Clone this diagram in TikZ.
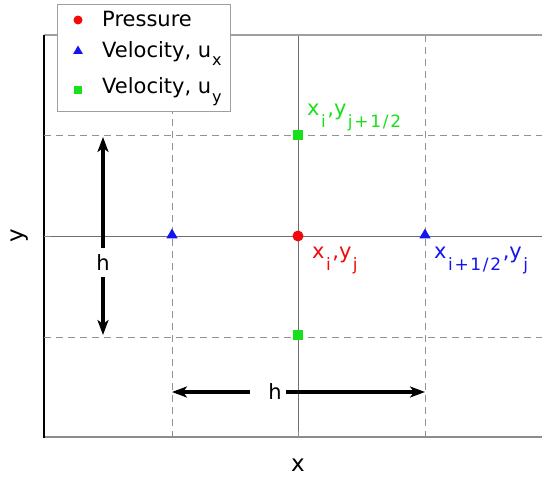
\documentclass[tikz,border=0pt]{standalone}
\usepackage{fontspec}
\setmainfont{DejaVu Sans}
\usetikzlibrary{arrows.meta,shapes.geometric}
\definecolor{mygreen}{RGB}{25,225,25}
\definecolor{myblue}{RGB}{20,20,240}
\definecolor{myred}{RGB}{240,10,10}
\definecolor{gridgray}{RGB}{110,110,110}
\newcommand\sbl[1]{\kern1.5pt\raisebox{-12pt}{\fontsize{17}{17}\selectfont\addfontfeature{LetterSpace=10}#1}\kern1.5pt}
\newcommand\sbg[1]{\kern1pt\raisebox{-9pt}{\fontsize{16}{16}\selectfont #1}}
\tikzset{
  gridsolid/.style={draw=gridgray, line width=0.9pt},
  griddash/.style={draw=gray!85, line width=0.9pt, dash pattern=on 7pt off 5pt},
  axisline/.style={draw=gray!75, line width=1.2pt},
  dotmark/.style={circle, fill=myred, inner sep=0pt, minimum size=11pt},
  trimark/.style={regular polygon, regular polygon sides=3, fill=myblue, inner sep=0pt, minimum size=13pt},
  sqmark/.style={rectangle, fill=mygreen, inner sep=0pt, minimum size=9.5pt},
  lbl/.style={anchor=base west, inner sep=0pt, font=\fontsize{21}{21}\selectfont},
  leg/.style={anchor=base west, inner sep=0pt, font=\fontsize{21}{21}\selectfont},
  bigarrow/.style={line width=4pt, -{Stealth[length=15pt, width=11pt, inset=4pt]}},
  hlabel/.style={inner sep=0pt, font=\fontsize{21}{21}\selectfont},
  axlabel/.style={inner sep=0pt, font=\fontsize{23}{23}\selectfont}
}
\begin{document}
\begin{tikzpicture}[x=1pt, y=-1pt]
\useasboundingbox (0,0) rectangle (542,479);
% grid
\draw[griddash] (172,35) -- (172,437);
\draw[griddash] (425,35) -- (425,437);
\draw[gridsolid] (298,35) -- (298,437);
\draw[griddash] (44,135) -- (542,135);
\draw[griddash] (44,337) -- (542,337);
\draw[gridsolid] (44,236) -- (542,236);
% axes
\draw[axisline] (44,35) -- (542,35);
\draw[axisline, draw=gray!90] (44,437) -- (542,437);
\draw[line width=1.4pt, black] (44,35) -- (44,437.6);
\foreach \yy in {135,236,337} \draw[line width=1pt, gray!90] (44,\yy) -- (50,\yy);
\foreach \xx in {172,298,425} \draw[line width=1pt, gray!90] (\xx,437) -- (\xx,431);
% axis labels
\node[axlabel, rotate=90] (ylab) at (20,236) {y};
\node[axlabel] (xlab) at (298,465) {x};
% points
\node[dotmark] (p) at (298,236) {};
\node[trimark] (ul) at (172,235) {};
\node[trimark] (ur) at (425,235) {};
\node[sqmark] (vt) at (298,135) {};
\node[sqmark] (vb) at (298,335) {};
% point labels
\node[lbl, text=mygreen] (lvt) at (307,115) {x\sbl{i},y\sbl{j+1/2}};
\node[lbl, text=myred] (lp) at (312,258) {x\sbl{i},y\sbl{j}};
\node[lbl, text=myblue] (lur) at (434,258) {x\sbl{i+1/2},y\sbl{j}};
% vertical h arrow
\node[hlabel] (hv) at (103,263) {h};
\coordinate (vtop) at (103,137);
\coordinate (vbot) at (103,335);
\coordinate (vs1) at (103,248);
\coordinate (vs2) at (103,277);
\draw[bigarrow] (vs1) -- (vtop);
\draw[bigarrow] (vs2) -- (vbot);
% horizontal h arrow
\node[hlabel] (hh) at (275,392) {h};
\coordinate (hleft) at (172,392);
\coordinate (hright) at (425,392);
\coordinate (hs1) at (250,392);
\coordinate (hs2) at (286,392);
\draw[bigarrow] (hs1) -- (hleft);
\draw[bigarrow] (hs2) -- (hright);
% legend
\node[draw=gray!75, line width=0.9pt, fill=white, inner sep=0pt, minimum width=173pt, minimum height=107pt, anchor=north west] (legbox) at (57,4) {};
\node[dotmark, minimum size=9pt] (lm1) at (78,20) {};
\node[trimark, minimum size=11pt] (lm2) at (78,51) {};
\node[sqmark, minimum size=8pt] (lm3) at (78,90) {};
\node[leg] (lt1) at (102,27) {Pressure};
\node[leg] (lt2) at (102,57) {Velocity, u\sbg{x}};
\node[leg] (lt3) at (102,93) {Velocity, u\sbg{y}};
\end{tikzpicture}
\end{document}
